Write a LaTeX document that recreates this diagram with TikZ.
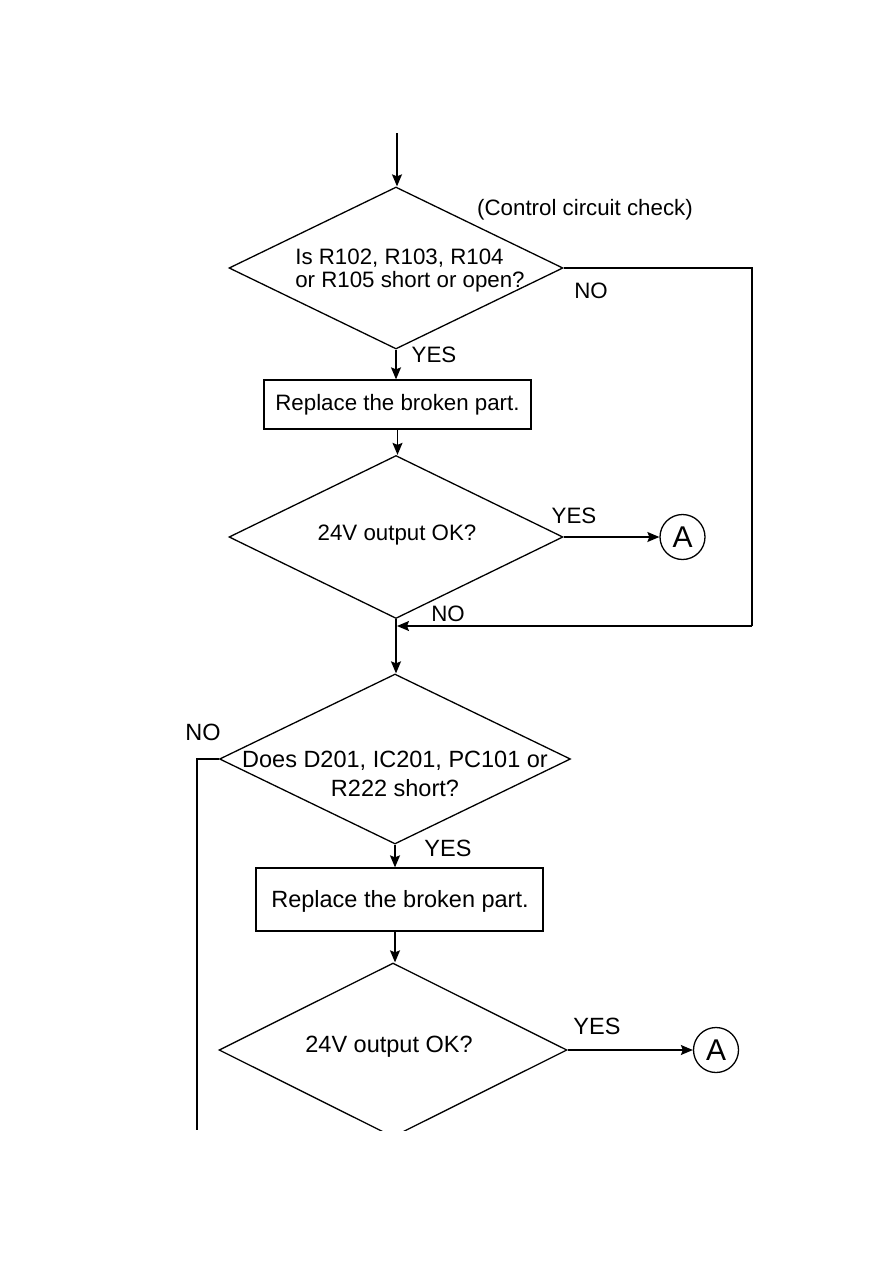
\documentclass[tikz,border=0pt]{standalone}
\usepackage{fontspec}
\setmainfont{Liberation Sans}
\usetikzlibrary{shapes.geometric,arrows.meta}
\begin{document}
\begin{tikzpicture}[x=1pt,y=-1pt,
  line width=1.3pt,
  dia/.style={draw,diamond,inner sep=0pt,line width=1.3pt},
  box/.style={draw,rectangle,inner sep=0pt,line width=1.3pt},
  conn/.style={circle,draw,inner sep=0pt,minimum size=45pt,line width=1.3pt,font=\fontsize{30}{30}\selectfont},
  arr/.style={-{Stealth[length=12pt,width=10pt,inset=2pt]}},
  txa/.style={font=\fontsize{22.3}{23}\selectfont},
  txb/.style={font=\fontsize{23.5}{29}\selectfont},
]
\useasboundingbox (0,0) rectangle (893,1263);

% nodes
\coordinate (start) at (397,133);
\node[dia,minimum width=334pt,minimum height=162pt] (d1) at (396,268) {};
\node[txa,align=left] (t1) at (410,271) {Is R102, R103, R104\\or R105 short or open?};
\node[box,minimum width=267pt,minimum height=49pt] (b1) at (397.5,404.5) {};
\node[txa] (tb1) at (b1) {Replace the broken part.};
\node[dia,minimum width=334pt,minimum height=163pt] (d2) at (396,537) {};
\node[txa] (t2) at (397,535) {24V output OK?};
\node[conn] (a1) at (682.5,537) {A};
\coordinate (j1) at (397,626);
\coordinate (r1) at (752,268);
\coordinate (r2) at (752,626);
\node[dia,minimum width=351pt,minimum height=170pt] (d3) at (395,759) {};
\node[txb,align=center] (t3) at (395,774) {Does D201, IC201, PC101 or\\R222 short?};
\node[box,minimum width=287pt,minimum height=63pt] (b2) at (399.5,899.5) {};
\node[txb] (tb2) at (400,901) {Replace the broken part.};
\begin{scope}
\clip (0,0) rectangle (893,1130);
\node[dia,minimum width=348pt,minimum height=174pt] (d4) at (393,1050) {};
\end{scope}
\node[txb] (t4) at (389,1047) {24V output OK?};
\node[conn] (a2) at (716,1050) {A};
\coordinate (l2) at (197,1130);

% labels
\node[txa] (cc) at (585,210) {(Control circuit check)};
\node[txa] (y1) at (434,355) {YES};
\node[txa] (n1) at (591,291) {NO};
\node[txa] (y2) at (574,516) {YES};
\node[txa] (n2) at (448,614) {NO};
\node[txb] (n3) at (203,732) {NO};
\node[txb] (y3) at (448,848) {YES};
\node[txb] (y4) at (597,1026) {YES};

% connectors
\draw[arr] (start) -- (start |- d1.north);
\draw[arr] (d1.south) -- (d1.south |- b1.north);
\draw[arr] (b1.south) -- (b1.south |- d2.north);
\draw[arr] (d2.east) -- (d2.east -| a1.west);
\draw (d1.east) -- (d1.east -| r1) -- (r2);
\draw[arr] (r2) -- (j1);
\draw[arr] (d2.south) -- (d2.south |- d3.north);
\draw[arr] (d3.south) -- (d3.south |- b2.north);
\draw[arr] (d3.south |- b2.south) -- (d3.south |- d4.north);
\draw[arr] (d4.east) -- (d4.east -| a2.west);
\draw (d3.west) -- (d3.west -| l2) -- (l2);
\end{tikzpicture}
\end{document}
